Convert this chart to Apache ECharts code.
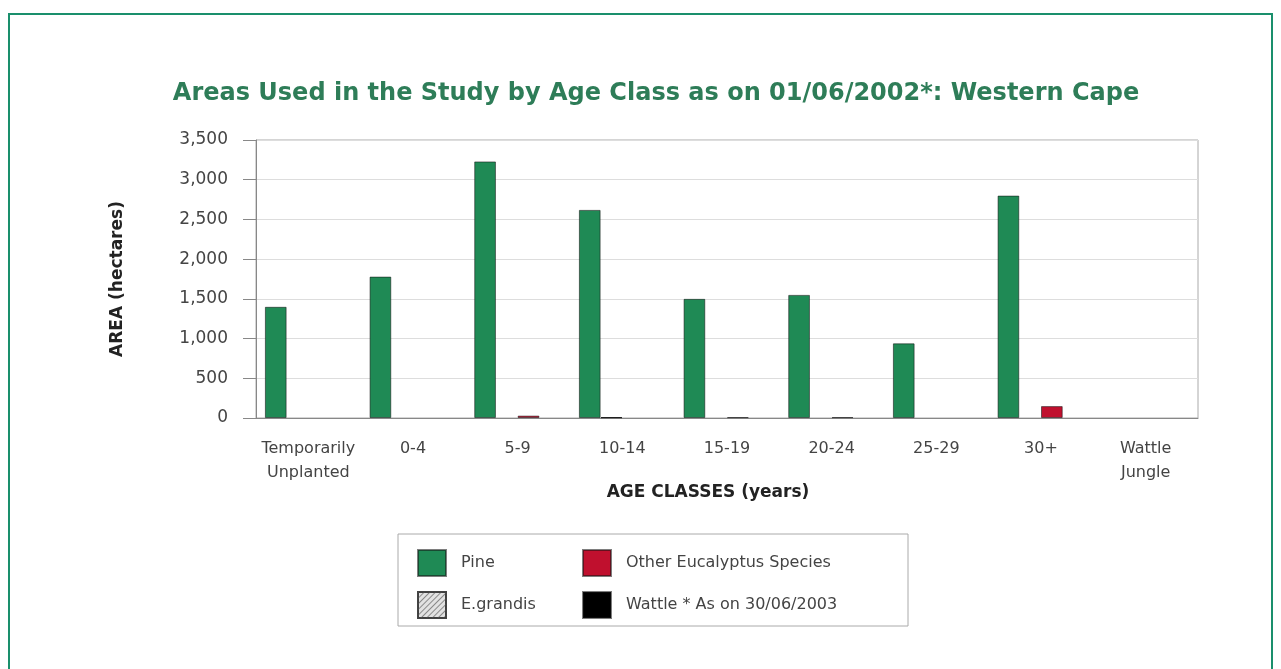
<!DOCTYPE html>
<html>
<head>
<meta charset="utf-8">
<script src="https://cdn.jsdelivr.net/npm/echarts@6/dist/echarts.min.js"></script>
<style>
  html, body { margin: 0; padding: 0; background: #fff; }
  #chart { width: 1281px; height: 669px; }
</style>
</head>
<body>
<div id="chart"></div>
<script>
// Age classes (x axis)
const categories = ['Temporarily\nUnplanted', '0-4', '5-9', '10-14', '15-19', '20-24', '25-29', '30+', 'Wattle\nJungle'];

// Area in hectares per age class, one array per species group
const pine = [1400, 1780, 3230, 2620, 1500, 1550, 940, 2800, 0];
const eGrandis = [0, 0, 0, 10, 0, 0, 0, 0, 0];
const otherEucalyptus = [0, 0, 30, 0, 10, 10, 0, 150, 0];
const wattle = [0, 0, 0, 0, 0, 0, 0, 0, 0];

// Y axis ticks
const yTicks = [0, 500, 1000, 1500, 2000, 2500, 3000, 3500];

const FONT = 'DejaVu Sans';
const TEXT = '#444';
const outline = { borderColor: 'rgba(20,20,20,0.55)', borderWidth: 1 };
// empty classes get no bar at all (not even an outline)
const bars = arr => arr.map(v => (v === 0 ? '-' : v));

const chart = echarts.init(document.getElementById('chart'), null, { renderer: 'canvas' });

chart.setOption({
  animation: false,
  textStyle: { fontFamily: FONT },
  title: {
    text: 'Areas Used in the Study by Age Class as on 01/06/2002*: Western Cape',
    left: 651, top: 77, textAlign: 'center',
    textStyle: { fontFamily: FONT, fontSize: 24, fontWeight: 'bold', color: '#2e7d58' }
  },
  grid: { left: 256, right: 83, top: 140, bottom: 251, show: true, borderColor: '#aaa', borderWidth: 1 },
  xAxis: {
    type: 'category',
    data: categories,
    axisLine: { lineStyle: { color: '#888', width: 1 } },
    axisTick: { length: 15, lineStyle: { color: '#888' } },
    axisLabel: { color: TEXT, fontSize: 16, fontFamily: FONT, lineHeight: 24, margin: 19, interval: 0 }
  },
  yAxis: {
    type: 'value',
    min: yTicks[0], max: yTicks[yTicks.length - 1], interval: 500,
    name: 'AREA (hectares)', nameLocation: 'middle', nameGap: 130, nameRotate: 90,
    nameTextStyle: { fontFamily: FONT, fontSize: 17, fontWeight: 'bold', color: '#222' },
    axisLine: { show: true, lineStyle: { color: '#888' } },
    axisTick: { show: true, length: 13, lineStyle: { color: '#888' } },
    axisLabel: { color: TEXT, fontSize: 17, fontFamily: FONT, margin: 28,
      formatter: v => v.toLocaleString('en-US') },
    splitLine: { lineStyle: { color: '#ddd' } }
  },
  legend: [
    {
      orient: 'vertical', left: 417, top: 549, padding: 0, icon: 'rect',
      itemWidth: 28, itemHeight: 26, itemGap: 14,
      data: ['Pine', 'E.grandis'],
      textStyle: { color: TEXT, fontSize: 16, fontFamily: FONT, padding: [0, 0, 0, 10] }
    },
    {
      orient: 'vertical', left: 582, top: 549, padding: 0, icon: 'rect',
      itemWidth: 28, itemHeight: 26, itemGap: 14,
      data: ['Other Eucalyptus Species', 'Wattle'],
      formatter: n => n === 'Wattle' ? 'Wattle * As on 30/06/2003' : n,
      textStyle: { color: TEXT, fontSize: 16, fontFamily: FONT, padding: [0, 0, 0, 10] }
    }
  ],
  series: [
    { name: 'Pine', type: 'bar', data: bars(pine), barGap: '0%', barCategoryGap: '17%',
      itemStyle: Object.assign({ color: '#1f8a55' }, outline) },
    { name: 'E.grandis', type: 'bar', data: bars(eGrandis),
      itemStyle: Object.assign({ color: '#e2e2e2',
        decal: { symbol: 'rect', symbolSize: 1, dashArrayX: [1, 0], dashArrayY: [1, 3],
                 rotation: -Math.PI / 4, color: '#8a8a8a' } }, outline) },
    { name: 'Other Eucalyptus Species', type: 'bar', data: bars(otherEucalyptus),
      itemStyle: Object.assign({ color: '#c0102e' }, outline) },
    { name: 'Wattle', type: 'bar', data: bars(wattle),
      itemStyle: Object.assign({ color: '#000' }, outline) }
  ],
  graphic: [
    // page frame
    { type: 'rect', shape: { x: 9, y: 14, width: 1263, height: 700 },
      style: { fill: 'none', stroke: '#1a8f6c', lineWidth: 2 }, silent: true, z: -1 },
    // x axis title
    { type: 'text', style: { text: 'AGE CLASSES (years)', x: 708, y: 493,
        textAlign: 'center', textVerticalAlign: 'middle',
        font: 'bold 17px "DejaVu Sans"', fill: '#222' }, silent: true },
    // legend frame
    { type: 'rect', shape: { x: 398, y: 534, width: 510, height: 92 },
      style: { fill: 'none', stroke: '#aaa', lineWidth: 1 }, silent: true }
  ]
});
</script>
</body>
</html>
